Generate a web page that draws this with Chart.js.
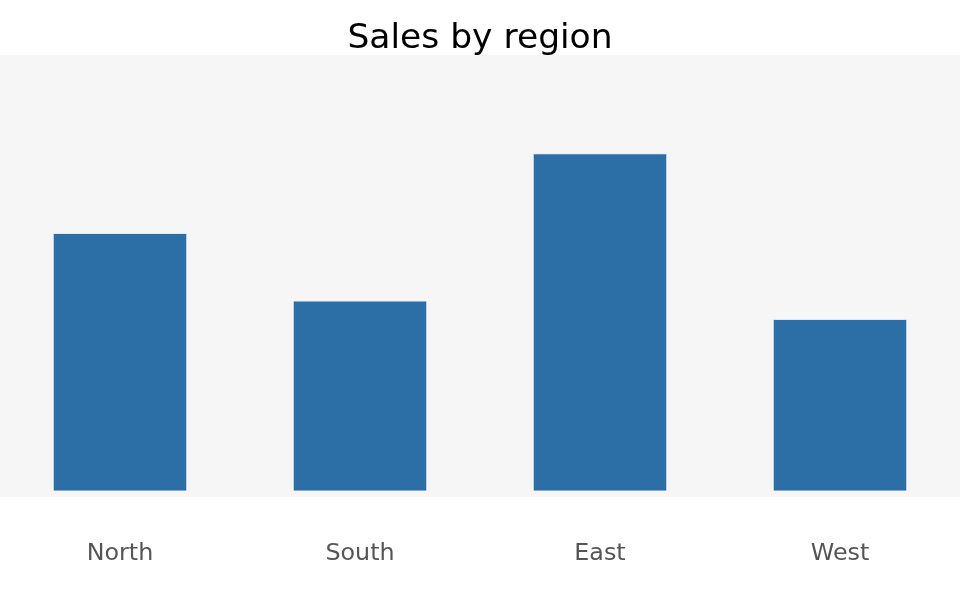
<!DOCTYPE html>
<html>
<head>
<meta charset="utf-8">
<script src="https://cdn.jsdelivr.net/npm/chart.js@4/dist/chart.umd.min.js"></script>
<style>
  html, body { margin: 0; padding: 0; background: #fff; }
  #wrap { width: 960px; height: 614px; }
</style>
</head>
<body>
<div id="wrap"><canvas id="salesChart" width="960" height="614"></canvas></div>
<script>
// data
const regions = ['North', 'South', 'East', 'West'];
const sales = [42, 31, 55, 28];
const yRange = [-1, 71];

// grey panel behind the plot area
const panelBg = {
  id: 'panelBg',
  beforeDraw(chart) {
    const { ctx, chartArea: a } = chart;
    ctx.save();
    ctx.fillStyle = '#f6f6f6';
    ctx.fillRect(a.left, a.top, a.right - a.left, a.bottom - a.top);
    ctx.restore();
  }
};

new Chart(document.getElementById('salesChart'), {
  type: 'bar',
  data: {
    labels: regions,
    datasets: [{
      label: 'Sales',
      data: sales,
      backgroundColor: '#2c6fa7',
      borderColor: 'rgba(220, 232, 244, 0.9)',
      borderWidth: 1,
      categoryPercentage: 1,
      barPercentage: 0.56
    }]
  },
  options: {
    responsive: false,
    animation: false,
    layout: { padding: 0 },
    plugins: {
      legend: { display: false },
      tooltip: { enabled: false },
      title: {
        display: true,
        text: 'Sales by region',
        color: '#000',
        font: { family: 'DejaVu Sans', size: 34.5, weight: 'normal', lineHeight: 1 },
        padding: { top: 22, bottom: -1.5 }
      }
    },
    scales: {
      x: {
        grid: { display: false, drawTicks: false },
        border: { display: false },
        ticks: {
          color: '#555',
          font: { family: 'DejaVu Sans', size: 23.8 },
          padding: 43
        },
        afterFit(scale) { scale.height = 117; }
      },
      y: {
        display: false,
        min: yRange[0],
        max: yRange[1]
      }
    }
  },
  plugins: [panelBg]
});
</script>
</body>
</html>
